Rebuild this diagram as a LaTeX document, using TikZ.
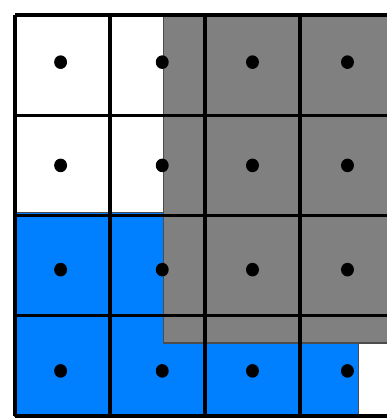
\documentclass[tikz,border=0pt]{standalone}
\definecolor{cellblue}{RGB}{0,128,255}
\definecolor{cellgray}{RGB}{128,128,128}
\begin{document}
\begin{tikzpicture}[x=0.95cm, y=1.0025cm]

\useasboundingbox (-0.158,-0.02) rectangle (3.916,4.15);
\clip (-0.158,-0.02) rectangle (3.916,4.15);

% regione blu
\filldraw[fill=cellblue, draw=black!70, line width=0.3pt] (0,0) rectangle (3.62,2.03);

% regione grigia
\filldraw[fill=cellgray, draw=black!70, line width=0.3pt] (1.568,0.728) rectangle (4.3,4);

% griglia
\foreach \i in {0,...,4} {
  \draw[line width=0.9pt] (\i,0) -- (\i,4);
  \draw[line width=0.9pt] (0,\i) -- (4.3,\i);
}

% punti
\foreach \x in {0.48,1.55,2.5,3.5} {
  \foreach \y in {0.45,1.46,2.5,3.53} {
    \fill (\x,\y) circle (0.068);
  }
}

\end{tikzpicture}
\end{document}
